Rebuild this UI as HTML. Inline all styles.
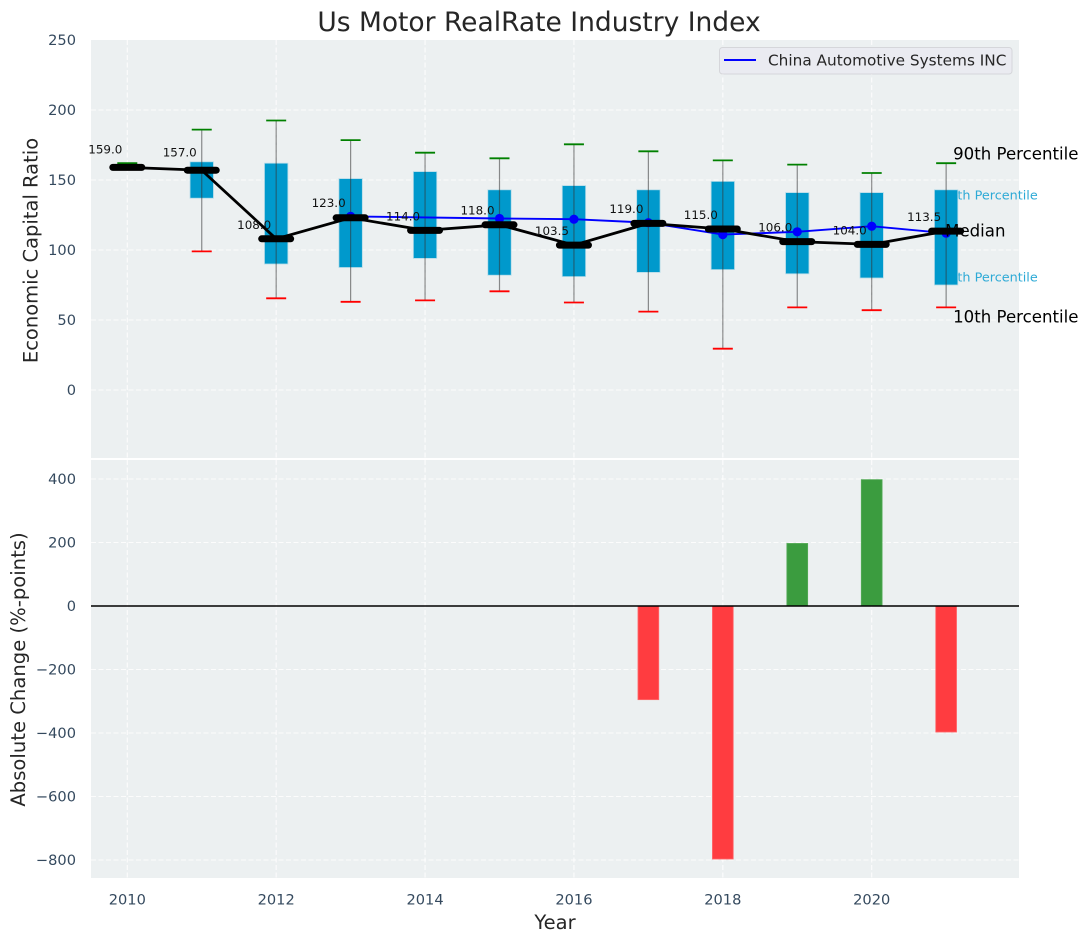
<!DOCTYPE html>
<html lang="en">
<head>
<meta charset="utf-8">
<title>Us Motor RealRate Industry Index</title>
<style>
html,body{margin:0;padding:0;background:#fff;width:1088px;height:942px;overflow:hidden}
svg{display:block;font-family:"DejaVu Sans","Liberation Sans",sans-serif}
</style>
</head>
<body>
<svg id="chart" xmlns="http://www.w3.org/2000/svg" width="1088" height="942" viewBox="0 0 1088 942">
<rect x="0" y="0" width="1088" height="942" fill="#ffffff"/>
<text x="539" y="31" font-size="26.5" text-anchor="middle" fill="#262626">Us Motor RealRate Industry Index</text>
<rect x="91" y="40" width="928" height="418" fill="#ecf0f1"/>
<rect x="91" y="460" width="928" height="418" fill="#ecf0f1"/>
<g id="top-grid"></g>
<g id="bottom-grid"></g>
<g id="percentile-under"></g>
<g id="boxes"></g>
<g id="whiskers"></g>
<g id="company"></g>
<g id="medians"></g>
<g id="labels"></g>
<g id="annotations"></g>
<g id="bars"></g>
<line x1="91" x2="1019" y1="606" y2="606" stroke="#000000" stroke-width="1.4"/>
<g>
<rect x="719.5" y="47.5" width="292.5" height="26.5" rx="3" fill="#eaebf1" stroke="#d5d6da" stroke-width="1"/>
<line x1="724" x2="756" y1="60" y2="60" stroke="#0000ff" stroke-width="2"/>
<text x="768" y="65.5" font-size="15.3" fill="#262626">China Automotive Systems INC</text>
</g>
<g id="y-ticks-top"></g>
<g id="y-ticks-bottom"></g>
<g id="x-ticks"></g>
<text transform="translate(37.5,250.5) rotate(-90)" font-size="19.5" text-anchor="middle" fill="#262626">Economic Capital Ratio</text>
<text transform="translate(25,669.5) rotate(-90)" font-size="19.6" text-anchor="middle" fill="#262626">Absolute Change (%-points)</text>
<text x="555" y="929" font-size="19.5" text-anchor="middle" fill="#262626">Year</text>
</svg>
<script>
const years = [2010, 2011, 2012, 2013, 2014, 2015, 2016, 2017, 2018, 2019, 2020, 2021];
const medianValues = [159, 157, 108, 123, 114, 118, 103.5, 119, 115, 106, 104, 113.5];
const p90Values = [162, 186, 192.5, 178.5, 169.5, 165.5, 175.5, 170.5, 164, 161, 155, 162];
const p75Values = [null, 163, 162, 151, 156, 143, 146, 143, 149, 141, 141, 143];
const p25Values = [null, 137, 90, 87.5, 94, 82, 81, 84, 86, 83, 80, 75];
const p10Values = [null, 99, 65.5, 63, 64, 70.5, 62.5, 56, 29.5, 59, 57, 59];
const companyValues = [null, null, null, 124, null, 122.5, 122, 119.5, 111, 113, 117, 112];
const changeValues = [0, 0, 0, 0, 0, 0, 0, -295, -797, 197, 398, -397];
const topTickValues = [0, 50, 100, 150, 200, 250];
const bottomTickValues = [-800, -600, -400, -200, 0, 200, 400];
const xTickValues = [2010, 2012, 2014, 2016, 2018, 2020];

const NS = 'http://www.w3.org/2000/svg';
const xScale = v => 127.3 + (v - 2010) * 74.44;
const yTop = v => 390 - v * 1.4;
const yBottom = v => 606 - v * 0.3175;
const fmt = v => v < 0 ? '\u2212' + Math.abs(v) : String(v);
const layer = id => document.getElementById(id);

function make(parent, tag, attrs, text) {
  const el = document.createElementNS(NS, tag);
  for (const k in attrs) el.setAttribute(k, attrs[k]);
  if (text !== undefined) el.textContent = text;
  layer(parent).appendChild(el);
  return el;
}
const gridStyle = {stroke: '#ffffff', 'stroke-width': 1.1, 'stroke-dasharray': '5 2.5', opacity: 0.85};

topTickValues.forEach(v => {
  if (v !== 250) {
    const g = make('top-grid', 'line', {x1: 91, x2: 1019, y1: yTop(v), y2: yTop(v), ...gridStyle});
    
    
  }
  const t = make('y-ticks-top', 'text', {x: 76, y: yTop(v) + 5.2, 'font-size': 14.6, 'text-anchor': 'end', fill: '#34495e'}, fmt(v));
  
  
});
bottomTickValues.forEach(v => {
  const g = make('bottom-grid', 'line', {x1: 91, x2: 1019, y1: yBottom(v), y2: yBottom(v), ...gridStyle});
  
  
  const t = make('y-ticks-bottom', 'text', {x: 76, y: yBottom(v) + 5.2, 'font-size': 14.6, 'text-anchor': 'end', fill: '#34495e'}, fmt(v));
  
  
});
xTickValues.forEach(v => {
  const g1 = make('top-grid', 'line', {x1: xScale(v), x2: xScale(v), y1: 40, y2: 458, ...gridStyle});
  
  
  const g2 = make('bottom-grid', 'line', {x1: xScale(v), x2: xScale(v), y1: 460, y2: 878, ...gridStyle});
  
  
  const t = make('x-ticks', 'text', {x: xScale(v), y: 904.5, 'font-size': 14.6, 'text-anchor': 'middle', fill: '#34495e'}, String(v));
  
  
});

years.forEach((yr, i) => {
  const x = xScale(yr);
  if (p75Values[i] !== null) {
    const box = make('boxes', 'rect', {x: x - 11.7, y: yTop(p75Values[i]), width: 23.4, height: yTop(p25Values[i]) - yTop(p75Values[i]), fill: '#0099cc', stroke: '#b5dbe8', 'stroke-width': 0.8});
    
    
    const wh = make('whiskers', 'line', {x1: x, x2: x, y1: yTop(p90Values[i]), y2: yTop(p10Values[i]), stroke: '#333333', 'stroke-opacity': 0.55, 'stroke-width': 1.2});
    
    
    const low = make('whiskers', 'line', {x1: x - 10, x2: x + 10, y1: yTop(p10Values[i]), y2: yTop(p10Values[i]), stroke: '#ff0000', 'stroke-width': 1.8});
    
    
  }
  const high = make('whiskers', 'line', {x1: x - 10, x2: x + 10, y1: yTop(p90Values[i]), y2: yTop(p90Values[i]), stroke: '#008000', 'stroke-width': 1.8});
  
  

  const ml = make('medians', 'line', {x1: x - 14.5, x2: x + 14.5, y1: yTop(medianValues[i]), y2: yTop(medianValues[i]), stroke: '#000000', 'stroke-width': 7, 'stroke-linecap': 'round'});
  
  

  const lift = 10 + Math.max(0, medianValues[i] - 115) * 0.09;
  const lbl = make('labels', 'text', {x: x - 22, y: yTop(medianValues[i]) - lift, 'font-size': 11.9, 'text-anchor': 'middle', fill: '#111111'}, medianValues[i].toFixed(1));
  
  

  if (changeValues[i] !== 0) {
    const top = Math.min(yBottom(changeValues[i]), yBottom(0));
    const h = Math.abs(yBottom(changeValues[i]) - yBottom(0));
    const bar = make('bars', 'rect', {x: x - 10.4, y: top, width: 20.8, height: h,
      fill: changeValues[i] > 0 ? '#3b9c3f' : '#ff3c40',
      stroke: changeValues[i] > 0 ? '#55ab58' : '#ff6a6d', 'stroke-width': 0.8});
    
    
  }
});

const companyPts = years.map((yr, i) => companyValues[i] === null ? null : [xScale(yr), yTop(companyValues[i])]).filter(Boolean);
const companyLine = make('company', 'polyline', {points: companyPts.map(p => p.join(',')).join(' '), fill: 'none', stroke: '#0000ff', 'stroke-width': 1.9});


companyPts.forEach(p => {
  const dot = make('company', 'circle', {cx: p[0], cy: p[1], r: 4.6, fill: '#0000ff'});
  
  
});

const medianLine = make('medians', 'polyline', {points: years.map((yr, i) => xScale(yr) + ',' + yTop(medianValues[i])).join(' '), fill: 'none', stroke: '#000000', 'stroke-width': 2.8});



const lastX = xScale(2021);
const a90 = make('annotations', 'text', {x: lastX + 7, y: yTop(p90Values[11]) - 3.5, 'font-size': 16.6, fill: '#000000'}, '90th Percentile');


const a50 = make('annotations', 'text', {x: lastX - 1, y: yTop(medianValues[11]) + 5.5, 'font-size': 16.6, fill: '#000000'}, 'Median');


const a10 = make('annotations', 'text', {x: lastX + 7, y: yTop(p10Values[11]) + 15, 'font-size': 16.6, fill: '#000000'}, '10th Percentile');


const a75 = make('percentile-under', 'text', {x: lastX - 5, y: yTop(p75Values[11]) + 9.5, 'font-size': 12.8, fill: '#2eaad6'}, '75th Percentile');


const a25 = make('percentile-under', 'text', {x: lastX - 5, y: yTop(p25Values[11]) - 3.5, 'font-size': 12.8, fill: '#2eaad6'}, '25th Percentile');


</script>
</body>
</html>
